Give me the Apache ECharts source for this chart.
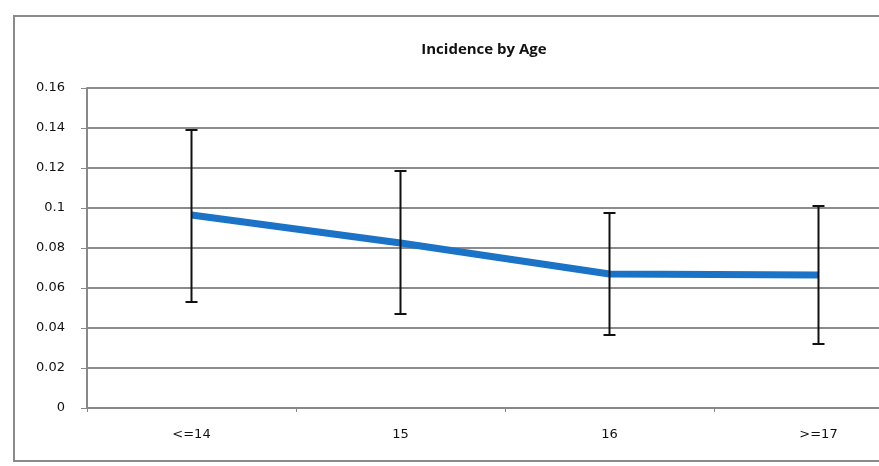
<!DOCTYPE html>
<html>
<head>
<meta charset="utf-8">
<script src="https://cdn.jsdelivr.net/npm/echarts@6/dist/echarts.min.js"></script>
<style>
  html, body { margin: 0; padding: 0; background: #fff; overflow: hidden; }
  #chart { width: 879px; height: 466px; }
</style>
</head>
<body>
<div id="chart"></div>
<script>
// data
var ages = ['<=14', '15', '16', '>=17'];
var incidence = [0.0965, 0.0825, 0.067, 0.0665];
var lowerCI = [0.053, 0.047, 0.0365, 0.032];
var upperCI = [0.139, 0.1185, 0.0975, 0.101];

var yTicks = ['0', '0.02', '0.04', '0.06', '0.08', '0.1', '0.12', '0.14', '0.16'];

var chart = echarts.init(document.getElementById('chart'));

var errData = ages.map(function (a, i) {
	return [i, lowerCI[i], upperCI[i]];
});

var option = {
	animation: false,
	title: {
		text: 'Incidence by Age',
		left: 479,
		top: 37,
		textAlign: 'center',
		textStyle: { fontFamily: 'Open Sans', fontSize: 15, fontWeight: 'bold', color: '#111' }
	},
	// outer chart frame (right side is cut off in the original)
	graphic: [{
		type: 'polyline',
		shape: { points: [[879, 16], [14, 16], [14, 461], [879, 461]] },
		style: { fill: 'none', stroke: '#8a8a8a', lineWidth: 2 },
		silent: true
	}],
	grid: { left: 87, width: 836, top: 88, bottom: 58, outerBoundsMode: 'none', containLabel: false },
	xAxis: {
		type: 'category',
		data: ages,
		axisLine: { lineStyle: { color: '#888', width: 2 } },
		axisTick: { show: true, length: 4, lineStyle: { color: '#888' } },
		axisLabel: { margin: 20, fontFamily: 'DejaVu Sans', fontSize: 13, color: '#111' }
	},
	yAxis: {
		type: 'value',
		min: 0,
		max: 0.16,
		interval: 0.02,
		axisLine: { show: true, lineStyle: { color: '#888', width: 2 } },
		axisTick: { show: true, length: 6, lineStyle: { color: '#888' } },
		splitLine: { lineStyle: { color: '#8c8c8c', width: 2 } },
		axisLabel: {
			margin: 22,
			fontFamily: 'DejaVu Sans',
			fontSize: 13,
			color: '#111',
			formatter: function (v) {
				return yTicks[Math.round(v / 0.02)];
			}
		}
	},
	series: [{
		type: 'line',
		data: incidence,
		symbol: 'none',
		lineStyle: { color: '#1a73c6', width: 7 },
		z: 3
	}, {
		type: 'custom',
		data: errData,
		z: 4,
		renderItem: function (params, api) {
			var x = api.value(0);
			var lo = api.coord([x, api.value(1)]);
			var hi = api.coord([x, api.value(2)]);
			var cap = 6;
			var st = { stroke: '#111', lineWidth: 2 };
			return {
				type: 'group',
				children: [
					{ type: 'line', shape: { x1: lo[0], y1: lo[1], x2: hi[0], y2: hi[1] }, style: st },
					{ type: 'line', shape: { x1: lo[0] - cap, y1: lo[1], x2: lo[0] + cap, y2: lo[1] }, style: st },
					{ type: 'line', shape: { x1: hi[0] - cap, y1: hi[1], x2: hi[0] + cap, y2: hi[1] }, style: st }
				]
			};
		}
	}]
};

chart.setOption(option);
</script>
</body>
</html>
